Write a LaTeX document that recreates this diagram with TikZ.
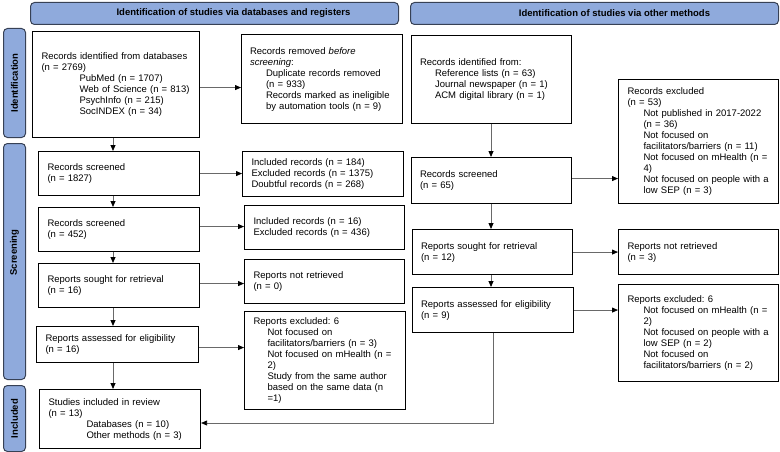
\documentclass[tikz,border=0pt]{standalone}
\usepackage{fontspec}
\setmainfont{Liberation Sans}
\usetikzlibrary{arrows.meta,calc}
\definecolor{hdrfill}{RGB}{143,170,220}
\definecolor{hdrdraw}{RGB}{55,65,85}
\definecolor{lnk}{RGB}{105,105,105}
\newcommand{\ind}{\hspace*{16pt}}
\newcommand{\indd}{\hspace*{38pt}}
\frenchspacing
\begin{document}
\begin{tikzpicture}[x=1pt,y=-1pt,
  font=\fontsize{9.5}{11}\selectfont,
  box/.style={draw=black,line width=1.1pt,anchor=north west,align=left,inner xsep=9pt,inner ysep=2pt},
  hdr/.style={draw=hdrdraw,fill=hdrfill,rounded corners=4pt,line width=1pt,anchor=north west},
  hdrtext/.style={font=\fontsize{9.5}{11}\selectfont\bfseries},
  arr/.style={draw=lnk,line width=0.8pt,-{Triangle[length=6pt,width=5pt,black]}},
  ln/.style={draw=lnk,line width=0.8pt}]
\useasboundingbox (0,0) rectangle (780,452);

% headers
\node[hdr,minimum width=368pt,minimum height=22pt,
  label={[hdrtext,xshift=19pt]center:Identification of studies via databases and registers}] (h1) at (30,2) {};
\node[hdr,minimum width=368pt,minimum height=22pt,
  label={[hdrtext,xshift=20pt]center:Identification of studies via other methods}] (h2) at (410,2) {};

% side labels
\node[hdr,minimum width=22pt,minimum height=109pt,
  label={[hdrtext,rotate=90]center:Identification}] (s1) at (3,28) {};
\node[hdr,minimum width=22pt,minimum height=236pt,
  label={[hdrtext,rotate=90,xshift=9pt]center:Screening}] (s2) at (3,143) {};
\node[hdr,minimum width=22pt,minimum height=66pt,
  label={[hdrtext,rotate=90]center:Included}] (s3) at (3,385) {};

\coordinate (colL) at (113,0);
\coordinate (colR) at (491,0);

% left column
\node[box,minimum height=106pt,text width=149pt] (A) at (32,31)
  {Records identified from databases\\(n = 2769)\\\indd PubMed (n = 1707)\\\indd Web of Science (n = 813)\\\indd PsychInfo (n = 215)\\\indd SocINDEX (n = 34)};
\node[box,minimum height=89pt,text width=144pt,inner xsep=8.5pt] (B) at (241,34)
  {Records removed \textit{before}\\\textit{screening}:\\\ind Duplicate records removed\\\ind (n = 933)\\\ind Records marked as ineligible\\\ind by automation tools (n = 9)};
\node[box,minimum height=44pt,text width=143pt] (E) at (38,151)
  {Records screened\\(n = 1827)};
\node[box,minimum height=45pt,text width=143pt] (F) at (242,151)
  {Included records (n = 184)\\Excluded records (n = 1375)\\Doubtful records (n = 268)};
\node[box,minimum height=44pt,text width=143pt] (G) at (38,207)
  {Records screened\\(n = 452)};
\node[box,minimum height=44pt,text width=142pt] (H) at (244,205)
  {Included records (n = 16)\\Excluded records (n = 436)};
\node[box,minimum height=44pt,text width=143pt] (I) at (38,263)
  {Reports sought for retrieval\\(n = 16)};
\node[box,minimum height=44pt,text width=142pt] (J) at (244,259)
  {Reports not retrieved\\(n = 0)};
\node[box,minimum height=36pt,text width=144pt] (P) at (36,326)
  {Reports assessed for eligibility\\(n = 16)};
\node[box,minimum height=98pt,text width=143pt] (R) at (244,311)
  {Reports excluded: 6\\\hspace*{14pt}Not focused on\\\hspace*{14pt}facilitators/barriers (n = 3)\\\hspace*{14pt}Not focused on mHealth (n =\\\hspace*{14pt}2)\\\hspace*{14pt}Study from the same author\\\hspace*{14pt}based on the same data (n\\\hspace*{14pt}=1)};
\node[box,minimum height=59pt,text width=143pt] (Q) at (39,389)
  {Studies included in review\\(n = 13)\\\indd Databases (n = 10)\\\indd Other methods (n = 3)};

% right column
\node[box,minimum height=88pt,text width=143pt,inner xsep=8.5pt] (C) at (411,35)
  {Records identified from:\\\hspace*{15pt}Reference lists (n = 63)\\\hspace*{15pt}Journal newspaper (n = 1)\\\hspace*{15pt}ACM digital library (n = 1)};
\node[box,minimum height=124pt,text width=142pt] (D) at (618,79)
  {Records excluded\\(n = 53)\\\ind Not published in 2017-2022\\\ind (n = 36)\\\ind Not focused on\\\ind facilitators/barriers (n = 11)\\\ind Not focused on mHealth (n =\\\ind 4)\\\ind Not focused on people with a\\\ind low SEP (n = 3)};
\node[box,minimum height=46pt,text width=143pt,inner xsep=8.5pt] (K) at (411,157)
  {Records screened\\(n = 65)};
\node[box,minimum height=45pt,text width=143pt,inner xsep=8.5pt] (L) at (412,229)
  {Reports sought for retrieval\\(n = 12)};
\node[box,minimum height=45pt,text width=142pt] (M) at (618,229)
  {Reports not retrieved\\(n = 3)};
\node[box,minimum height=45pt,text width=144pt,inner xsep=8.5pt] (N) at (412,287)
  {Reports assessed for eligibility\\(n = 9)};
\node[box,minimum height=97pt,text width=142pt] (O) at (618,284)
  {Reports excluded: 6\\\ind Not focused on mHealth (n =\\\ind 2)\\\ind Not focused on people with a\\\ind low SEP (n = 2)\\\ind Not focused on\\\ind facilitators/barriers (n = 2)};

% connectors left
\draw[arr] ([yshift=-3pt]A.east) -- ([yshift=-3pt]A.east -| B.west);
\draw[arr] (A.south -| colL) -- (E.north -| colL);
\draw[arr] (E.east) -- (E.east -| F.west);
\draw[arr] (E.south -| colL) -- (G.north -| colL);
\draw[arr] ([yshift=3pt]G.east) -- ([yshift=3pt]G.east -| H.west);
\draw[arr] (G.south -| colL) -- (I.north -| colL);
\draw[arr] ([yshift=2pt]I.east) -- ([yshift=2pt]I.east -| J.west);
\draw[arr] (I.south -| colL) -- (P.north -| colL);
\draw[arr] ([yshift=-3pt]P.east) -- ([yshift=-3pt]P.east -| R.west);
\draw[arr] (P.south -| colL) -- (Q.north -| colL);

% connectors right
\draw[arr] (C.south -| colR) -- (K.north -| colR);
\draw[arr] ([yshift=2pt]K.east) -- ([yshift=2pt]K.east -| D.west);
\draw[arr] (K.south -| colR) -- (L.north -| colR);
\draw[arr] (L.east) -- (L.east -| M.west);
\draw[arr] (L.south -| colR) -- (N.north -| colR);
\draw[arr] (N.east) -- (N.east -| O.west);
\coordinate (turn) at (493,423);
\draw[arr] (N.south -| turn) -- (turn) -- (turn -| Q.east);
\end{tikzpicture}
\end{document}
